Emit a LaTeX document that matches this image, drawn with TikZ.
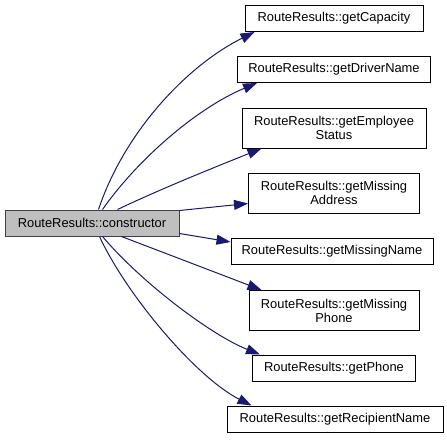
\documentclass[tikz,border=0pt]{standalone}
\usepackage{fontspec}
\setmainfont{Liberation Sans}
\usetikzlibrary{arrows.meta,calc}
\definecolor{edgeblue}{HTML}{191970}
\definecolor{rootfill}{HTML}{BFBFBF}
\begin{document}
\begin{tikzpicture}[x=1pt,y=-1pt,
  box/.style={draw=black, fill=white, line width=1pt, inner sep=0pt,
    minimum height=26pt, align=center, font=\fontsize{12.9}{14}\selectfont},
  box2/.style={box, minimum height=40pt},
  root/.style={box, fill=rootfill, draw=black!75},
  edge/.style={draw=edgeblue, line width=1pt, -{Triangle[length=14pt,width=10pt]}}]
\useasboundingbox (0,0) rectangle (447,439);
\node[root, minimum width=174pt] (c) at (92,223) {RouteResults::constructor};
\node[box, minimum width=178pt] (cap) at (334,18.5) {RouteResults::getCapacity};
\node[box, minimum width=193pt] (drv) at (334,69.5) {RouteResults::getDriverName};
\node[box2, minimum width=184pt] (emp) at (334,128) {RouteResults::getEmployee\\Status};
\node[box2, minimum width=171pt] (addr) at (334,193) {RouteResults::getMissing\\Address};
\node[box, minimum width=202pt] (mname) at (332,251.5) {RouteResults::getMissingName};
\node[box2, minimum width=170pt] (mphone) at (334,310.5) {RouteResults::getMissing\\Phone};
\node[box, minimum width=163pt] (phone) at (334,368) {RouteResults::getPhone};
\node[box, minimum width=216pt] (recip) at (335,419) {RouteResults::getRecipientName};
\draw[edge] ($(c.north west)+(94,0)$) .. controls +(25,-75) and +(-70,35) .. ($(cap.south west)+(10,0)$);
\draw[edge] ($(c.north west)+(98,0)$) .. controls +(35,-50) and +(-60,25) .. ($(drv.south west)+(20,0)$);
\draw[edge] ($(c.north west)+(113,0)$) .. controls +(42,-20) and +(-50,20) .. ($(emp.south west)+(20,0)$);
\draw[edge] ($(c.north east)+(0,1)$) -- ($(addr.south west)+(0,-10)$);
\draw[edge] ($(c.south east)+(0,-3)$) -- ($(mname.north west)+(0,4)$);
\draw[edge] ($(c.south west)+(117,0)$) -- ($(mphone.north west)+(13,0)$);
\draw[edge] ($(c.south west)+(98,0)$) .. controls +(38,45) and +(-50,-20) .. ($(phone.north west)+(8,0)$);
\draw[edge] ($(c.south west)+(95,0)$) .. controls +(28,60) and +(-55,-28) .. ($(recip.north west)+(25,0)$);
\end{tikzpicture}
\end{document}
